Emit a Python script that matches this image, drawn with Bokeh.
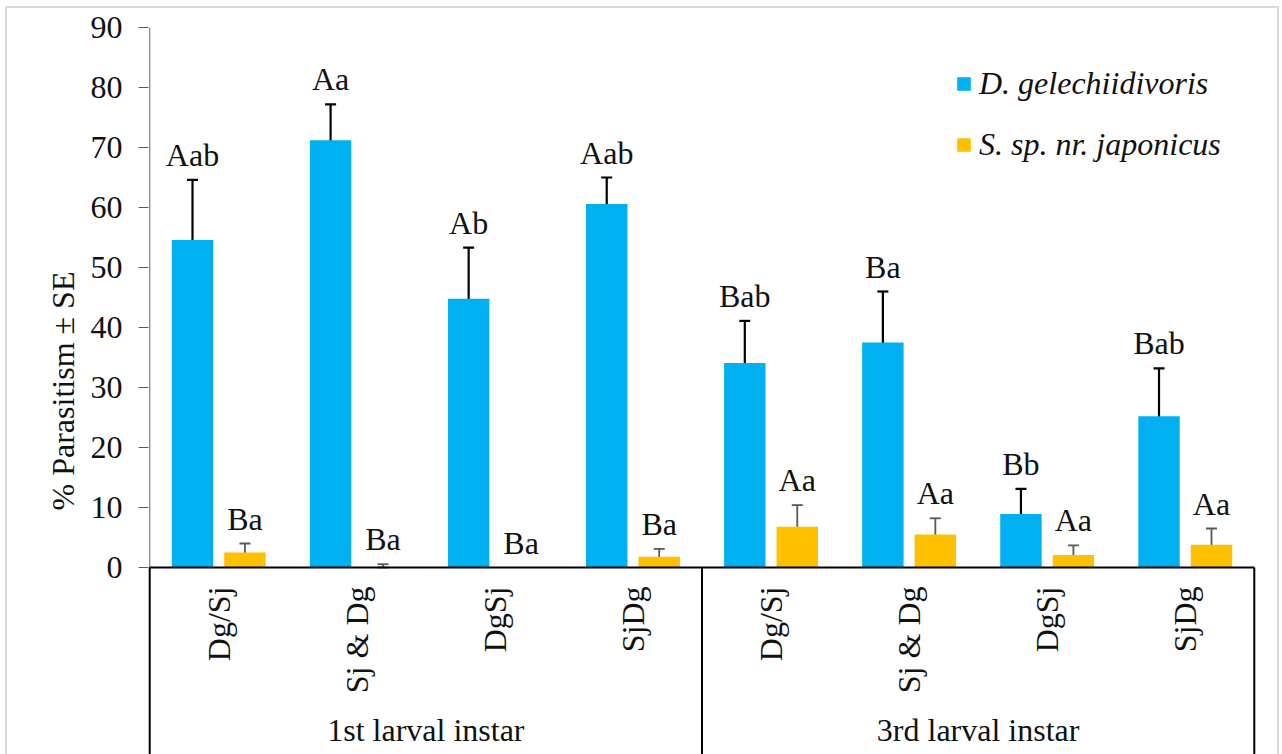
from bokeh.plotting import figure
from bokeh.models import (FactorRange, Range1d, ColumnDataSource, Whisker, TeeHead,
                          FixedTicker, Legend, LegendItem)
from bokeh.transform import dodge
from bokeh.core.properties import value
from bokeh.embed import file_html
from bokeh.resources import INLINE

# ---------------- data ----------------
groups = ["1st larval instar", "3rd larval instar"]
treatments = ["Dg/Sj", "Sj & Dg", "DgSj", "SjDg"]
series_names = ["D. gelechiidivoris", "S. sp. nr. japonicus"]
dg_mean = [54.6, 71.2, 44.8, 60.6, 34.1, 37.5, 8.9, 25.2]
dg_se = [10.0, 6.0, 8.5, 4.4, 7.0, 8.5, 4.2, 8.0]
sj_mean = [2.5, 0.1, 0.0, 1.8, 6.8, 5.5, 2.1, 3.8]
sj_se = [1.5, 0.45, 0.0, 1.3, 3.6, 2.7, 1.6, 2.7]
dg_letters = ["Aab", "Aa", "Ab", "Aab", "Bab", "Ba", "Bb", "Bab"]
sj_letters = ["Ba", "Ba", "Ba", "Ba", "Aa", "Aa", "Aa", "Aa"]
y_ticks = [0, 10, 20, 30, 40, 50, 60, 70, 80, 90]

# ---------------- styles ----------------
BLUE = "#00B0F0"
ORANGE = "#FFC000"
FONT = "Liberation Serif"
FS = "32px"
TXT = "#111111"
OFF = 0.19
BW = 0.30
PX_PER_UNIT = 6.0

factors = [(g, t) for g in groups for t in treatments]
n = len(factors)

src = ColumnDataSource(dict(
    cat=factors,
    dg=dg_mean, dg_up=[m + s for m, s in zip(dg_mean, dg_se)], dg_lo=[m - s for m, s in zip(dg_mean, dg_se)],
    sj=sj_mean, sj_up=[m + s for m, s in zip(sj_mean, sj_se)],
    dg_lab=dg_letters, sj_lab=sj_letters,
))
keep = [i for i in range(n) if sj_se[i] > 0]
sj_err = ColumnDataSource(dict(
    cat=[factors[i] for i in keep],
    up=[sj_mean[i] + sj_se[i] for i in keep],
    lo=[max(0.0, sj_mean[i] - sj_se[i]) for i in keep],
))

W, H = 1282, 754
top_b, left_b, right_b = 27, 147, 26
y_top = y_ticks[-1]
y_bottom = y_top - (H - top_b) / PX_PER_UNIT

p = figure(
    x_range=FactorRange(*factors, group_padding=0, factor_padding=0,
                        range_padding=0.016, range_padding_units="absolute"),
    y_range=Range1d(y_bottom, y_top),
    width=W, height=H, output_backend="svg", toolbar_location=None,
    x_axis_location=None,
    min_border_left=left_b, min_border_right=right_b, min_border_top=top_b, min_border_bottom=0,
)
g = "linear-gradient(#d9d9d9, #d9d9d9)"
p.styles = {"background": (f"{g} left 5px top 6px / 2px calc(100% - 6px) no-repeat, "
                           f"{g} left 5px top 6px / calc(100% - 8px) 2px no-repeat, "
                           f"{g} right 3px top 6px / 2px calc(100% - 6px) no-repeat, #ffffff")}
p.outline_line_color = None
p.grid.visible = False
p.background_fill_color = "white"
p.border_fill_color = None

ax = p.yaxis[0]
ax.ticker = FixedTicker(ticks=y_ticks)
ax.bounds = (-19.4, y_top)
ax.axis_line_color = None
ax.major_tick_line_color = "#595959"
ax.major_tick_line_width = 1
ax.major_tick_out = 9
ax.major_tick_in = 1
ax.minor_tick_line_color = None
ax.major_label_text_font = FONT
ax.major_label_text_font_size = FS
ax.major_label_text_color = TXT
ax.major_label_standoff = 16
ax.axis_label = "% Parasitism ± SE"
ax.axis_label_text_font = FONT
ax.axis_label_text_font_style = "normal"
ax.axis_label_text_font_size = "32px"
ax.axis_label_text_color = TXT
ax.axis_label_standoff = 7

# bars
r_dg = p.vbar(x=dodge("cat", -OFF, range=p.x_range), top="dg", width=BW, source=src,
              fill_color=BLUE, line_color=None)
r_sj = p.vbar(x=dodge("cat", OFF, range=p.x_range), top="sj", width=BW, source=src,
              fill_color=ORANGE, line_color=None)

# y axis line (0..90) and category axis frame lines
p.segment(x0=[0], y0=[0], x1=[0], y1=[y_top], line_color="#7f7f7f", line_width=1.2)
p.segment(x0=[0], y0=[0], x1=[n], y1=[0], line_color="black", line_width=2)
bounds_x = [0, len(treatments), n]
p.segment(x0=bounds_x, y0=[0] * 3, x1=bounds_x, y1=[y_bottom] * 3, line_color="black", line_width=2)

# error bars
p.add_layout(Whisker(source=src, base=dodge("cat", -OFF, range=p.x_range), upper="dg_up", lower="dg_lo",
                     line_color="black", line_width=2.2,
                     upper_head=TeeHead(size=11, line_color="black", line_width=2.2),
                     lower_head=TeeHead(size=11, line_color="black", line_width=2.2)))
p.add_layout(Whisker(source=sj_err, base=dodge("cat", OFF, range=p.x_range), upper="up", lower="lo",
                     line_color="#595959", line_width=1.8,
                     upper_head=TeeHead(size=11, line_color="#595959", line_width=1.8),
                     lower_head=TeeHead(size=11, line_color="#595959", line_width=1.8)))

# significance letters
p.text(x=dodge("cat", -OFF, range=p.x_range), y="dg_up", text="dg_lab", source=src,
       text_font=value(FONT), text_font_size=FS, text_color=TXT,
       text_align="center", text_baseline="middle", y_offset=-25)
p.text(x=dodge("cat", OFF, range=p.x_range), y="sj_up", text="sj_lab", source=src,
       text_font=value(FONT), text_font_size=FS, text_color=TXT,
       text_align="center", text_baseline="middle", y_offset=-25)

# category labels (rotated) and group labels
p.text(x=factors, y=[0] * n, text=[t for gg, t in factors], angle=1.5708,
       text_font=value(FONT), text_font_size=FS, text_color=TXT,
       text_align="right", text_baseline="middle", y_offset=19)
p.text(x=groups, y=[0] * len(groups), text=groups,
       text_font=value(FONT), text_font_size=FS, text_color=TXT,
       text_align="center", text_baseline="middle", y_offset=162)

legend = Legend(items=[LegendItem(label=series_names[0], renderers=[r_dg]),
                       LegendItem(label=series_names[1], renderers=[r_sj])],
                location=(808, 591), orientation="vertical",
                label_text_font=FONT, label_text_font_style="italic",
                label_text_font_size=FS, label_text_color=TXT,
                glyph_width=17, glyph_height=17, label_standoff=7, spacing=24,
                padding=0, margin=0, border_line_color=None, background_fill_alpha=0)
p.add_layout(legend)

open("out.html", "w").write(file_html(p, INLINE))
